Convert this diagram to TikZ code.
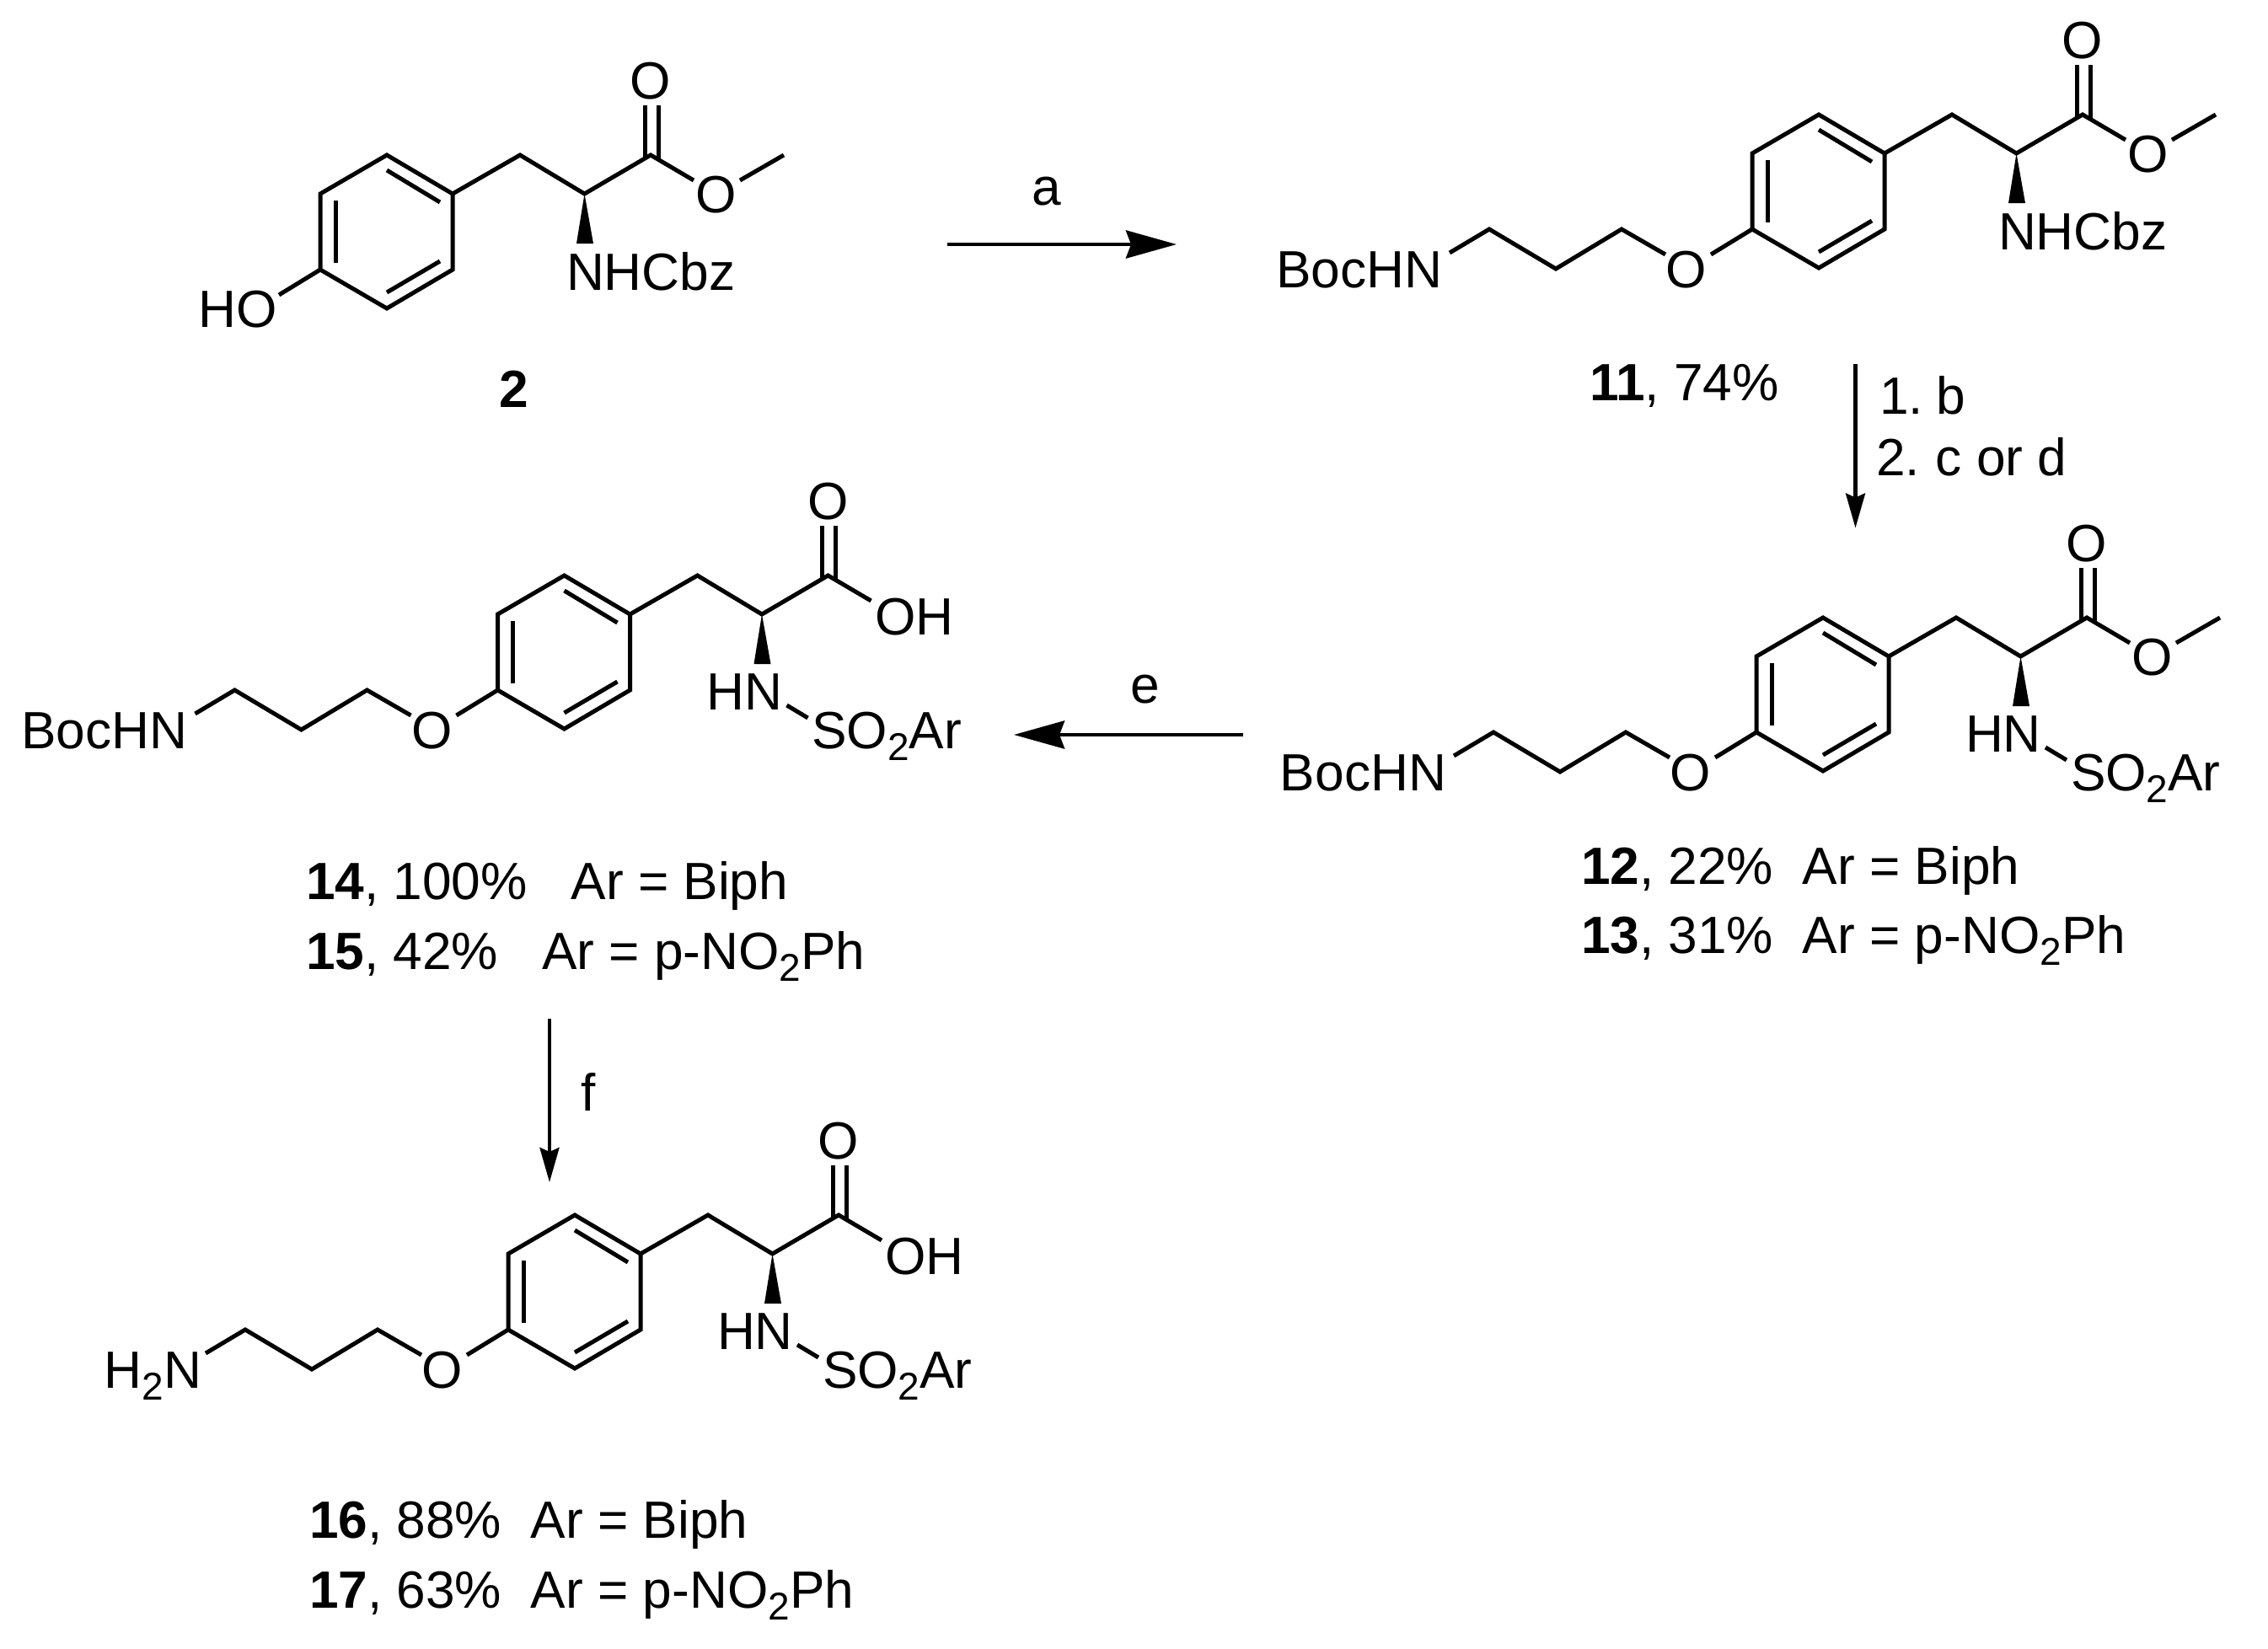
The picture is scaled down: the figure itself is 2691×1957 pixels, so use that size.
\documentclass[tikz,border=0pt]{standalone}
\usepackage{fontspec}
\setmainfont{Liberation Sans}
\usetikzlibrary{arrows.meta}
\newcommand\chemfont{\fontsize{62.2}{70}\selectfont}
\newcommand\chemsub[1]{\raisebox{-14pt}{\fontsize{46}{50}\selectfont #1}}
\tikzset{
  bond/.style={line width=5pt,line join=miter},
  wedgebond/.style={fill=black,draw=none},
  atom/.style={anchor=base,font=\chemfont,inner sep=0pt,outer sep=0pt},
  atomW/.style={anchor=base west,font=\chemfont,inner sep=0pt,outer sep=0pt},
  atomE/.style={anchor=base east,font=\chemfont,inner sep=0pt,outer sep=0pt},
  hreact/.style={line width=4.7pt,-{Stealth[length=60pt,width=33pt,inset=6pt]}},
  vreact/.style={line width=4.2pt,-{Stealth[length=41pt,width=23pt,inset=5pt]}},
}
% core: ring, CH2, C-alpha, carbonyl, wedge; #1 = name prefix
\newcommand\molcore[1]{
  \coordinate (#1u) at (0,0);
  \coordinate (#1t) at (-78,-46);
  \coordinate (#1ul) at (-157,0);
  \coordinate (#1ll) at (-157,90);
  \coordinate (#1b) at (-78,136);
  \coordinate (#1lr) at (0,90);
  \coordinate (#1ch) at (80,-46);
  \coordinate (#1ca) at (156.5,0);
  \coordinate (#1co) at (235,-46);
  \coordinate (#1i1a) at (-78,-28); \coordinate (#1i1b) at (-15,10);
  \coordinate (#1i2a) at (-139,8);  \coordinate (#1i2b) at (-139,82);
  \coordinate (#1i3a) at (-78,117); \coordinate (#1i3b) at (-15,80);
  \coordinate (#1d1a) at (228,-105); \coordinate (#1d1b) at (228,-41);
  \coordinate (#1d2a) at (244,-105); \coordinate (#1d2b) at (244,-41);
  \coordinate (#1wl) at (147,59); \coordinate (#1wr) at (167,59);
  \coordinate (#1x) at (286,-16);
  \draw[bond] (#1u)--(#1t)--(#1ul)--(#1ll)--(#1b)--(#1lr)--cycle;
  \draw[bond] (#1i1a)--(#1i1b);
  \draw[bond] (#1i2a)--(#1i2b);
  \draw[bond] (#1i3a)--(#1i3b);
  \draw[bond] (#1u)--(#1ch)--(#1ca)--(#1co)--(#1x);
  \draw[bond] (#1d1a)--(#1d1b);
  \draw[bond] (#1d2a)--(#1d2b);
  \fill[wedgebond] (#1ca)--(#1wl)--(#1wr)--cycle;
  \node[atom] (#1otop) at (235,-113) {O};
}
\newcommand\esterend[1]{
  \node[atom] (#1oe) at (313,22) {O};
  \coordinate (#1y) at (341,-16);
  \coordinate (#1me) at (393,-46);
  \draw[bond] (#1y)--(#1me);
}
\newcommand\acidend[1]{
  \node[atomW] (#1oh) at (290.5,24) {OH};
}
\newcommand\hnso[1]{
  \node[atomW] (#1hn) at (91,113) {HN};
  \node[atomW] (#1so) at (216,159) {SO\chemsub{2}Ar};
  \coordinate (#1s1) at (186,108);
  \coordinate (#1s2) at (211,123);
  \draw[bond] (#1s1)--(#1s2);
}
\newcommand\nhcbz[1]{
  \node[atomW] (#1nh) at (135,114) {NHCbz};
}
\newcommand\tether[3]{
  \node[atom] (#1oc) at (-235,159) {O};
  \coordinate (#1k1) at (-206,120);
  \coordinate (#1k2) at (-260,120);
  \coordinate (#1k3) at (-312,90);
  \coordinate (#1k4) at (-390,137);
  \coordinate (#1k5) at (-469,90);
  \coordinate (#1k6) at (-516,118);
  \draw[bond] (#1ll)--(#1k1);
  \draw[bond] (#1k2)--(#1k3)--(#1k4)--(#1k5)--(#1k6);
  \node[atomE] (#1nn) at (#3,159) {#2};
}
\begin{document}
\begin{tikzpicture}[x=1pt,y=-1pt]
\useasboundingbox (0,0) rectangle (2691,1957);
% compound 2
\begin{scope}[shift={(537,230)}]
  \molcore{A} \esterend{A} \nhcbz{A}
  \node[atomE] (Aho) at (-208,158) {HO};
  \coordinate (Ak1) at (-206,120);
  \draw[bond] (All)--(Ak1);
\end{scope}
\node[atom] (lab2) at (609.5,483) {\textbf{2}};
% compound 11
\begin{scope}[shift={(2236,182)}]
  \molcore{B} \esterend{B} \nhcbz{B} \tether{B}{BocHN}{-525}
\end{scope}
\node[atomW] (lab11) at (1886,475.5) {\textbf{11}, 74\%};
% compounds 12, 13
\begin{scope}[shift={(2241,779)}]
  \molcore{C} \esterend{C} \hnso{C} \tether{C}{BocHN}{-525}
\end{scope}
\node[atomW] (lab12) at (1876,1049) {\textbf{12}, 22\%~~Ar = Biph};
\node[atomW] (lab13) at (1876,1131) {\textbf{13}, 31\%~~Ar = p-NO\chemsub{2}Ph};
% compounds 14, 15
\begin{scope}[shift={(747.5,729)}]
  \molcore{D} \acidend{D} \hnso{D} \tether{D}{BocHN}{-525}
\end{scope}
\node[atomW] (lab14) at (363,1067) {\textbf{14}, 100\%~~~Ar = Biph};
\node[atomW] (lab15) at (363,1150) {\textbf{15}, 42\%~~~Ar = p-NO\chemsub{2}Ph};
% compounds 16, 17
\begin{scope}[shift={(760,1488)}]
  \molcore{E} \acidend{E} \hnso{E} \tether{E}{H\chemsub{2}N}{-521}
\end{scope}
\node[atomW] (lab16) at (367,1825) {\textbf{16}, 88\%~~Ar = Biph};
\node[atomW] (lab17) at (367,1908) {\textbf{17}, 63\%~~Ar = p-NO\chemsub{2}Ph};
% reaction arrows
\coordinate (a1) at (1124,290); \coordinate (a2) at (1396,290);
\draw[hreact] (a1)--(a2);
\node[atom] (la) at (1242,243) {a};
\coordinate (b1) at (2201.5,432); \coordinate (b2) at (2201.5,626.5);
\draw[vreact] (b1)--(b2);
\node[atomW] (lb) at (2230,491) {1.\hspace{16pt}b};
\node[atomW] (lc) at (2226,564) {2.\hspace{19pt}c or d};
\coordinate (e1) at (1475,872); \coordinate (e2) at (1203,872);
\draw[hreact] (e1)--(e2);
\node[atom] (le) at (1359,834) {e};
\coordinate (f1) at (652,1209); \coordinate (f2) at (652,1403);
\draw[vreact] (f1)--(f2);
\node[atom] (lf) at (698,1318) {f};
\end{tikzpicture}
\end{document}
